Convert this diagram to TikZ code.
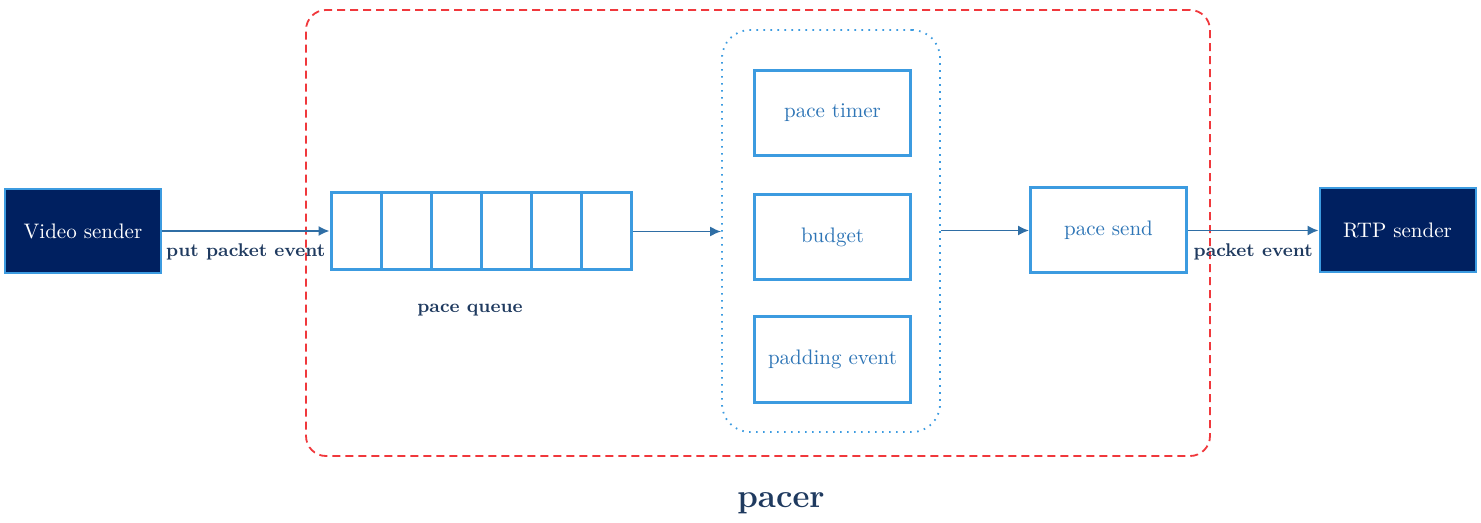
\documentclass[tikz,border=0pt]{standalone}
\usetikzlibrary{arrows.meta,positioning}
\definecolor{navy}{HTML}{002060}
\definecolor{boxblue}{HTML}{3C9BE0}
\definecolor{txtblue}{HTML}{2E75B6}
\definecolor{arrowblue}{HTML}{2F6EA5}
\definecolor{labeldark}{HTML}{1F3A5F}
\definecolor{pacered}{HTML}{F0383C}
\tikzset{
    x=0.5pt, y=-0.5pt,
    sender/.style={draw=boxblue, fill=navy, text=white, line width=1pt, minimum width=78pt, minimum height=42pt, font=\fontsize{10.5}{12}\selectfont},
    block/.style={draw=boxblue, line width=1.5pt, minimum width=78pt, minimum height=42.5pt, text=txtblue, font=\fontsize{10.5}{12}\selectfont},
    cell/.style={draw=boxblue, line width=1.5pt, minimum width=25pt, minimum height=38.5pt, inner sep=0pt},
    flow/.style={-{Latex[length=5.5pt,width=5pt]}, draw=arrowblue, line width=0.8pt},
    el/.style={font=\fontsize{9.2}{11}\selectfont\bfseries, text=labeldark, inner sep=1pt}
}

\begin{document}
\begin{tikzpicture}
    \useasboundingbox (0,0) rectangle (1481,523);
    % outer pacer frame and inner control frame
    \node[draw=pacered, dash pattern=on 4pt off 2.5pt, line width=0.9pt, rounded corners=10pt, minimum width=452pt, minimum height=223pt] (pacerbox) at (758,233) {};
    \node[draw=boxblue, dash pattern=on 0.8pt off 2.7pt, line width=0.9pt, rounded corners=14pt, minimum width=109pt, minimum height=201pt] (ctrl) at (831,231) {};
    \node[font=\fontsize{16.5}{19}\selectfont\bfseries, text=labeldark] (pacer) at (781,503) {pacer};

    \node[sender] (vs) at (83,231) {Video sender};
    \node[sender] (rtp) at (1397.5,230.5) {RTP sender};

    % queue cells
    \foreach \i in {1,...,6}
        \node[cell] (q\i) at ({306+50*\i},231.5) {};
    \node[el] (qlabel) at (470,310) {pace queue};

    \node[block] (timer) at (832.5,113) {pace timer};
    \node[block] (budget) at (832.5,237) {budget};
    \node[block] (padding) at (832.5,359.5) {padding event};
    \node[block] (send) at (1108.5,230.5) {pace send};

    \draw[flow] (vs.east) -- node[el, below=5pt] {put packet event} (vs.east -| q1.west);
    \draw[flow] (q6.east) -- (q6.east -| ctrl.west);
    \draw[flow] (ctrl.east |- send.west) -- (send.west);
    \draw[flow] (send.east) -- node[el, below=5pt] {packet event} (send.east -| rtp.west);
\end{tikzpicture}
\end{document}
